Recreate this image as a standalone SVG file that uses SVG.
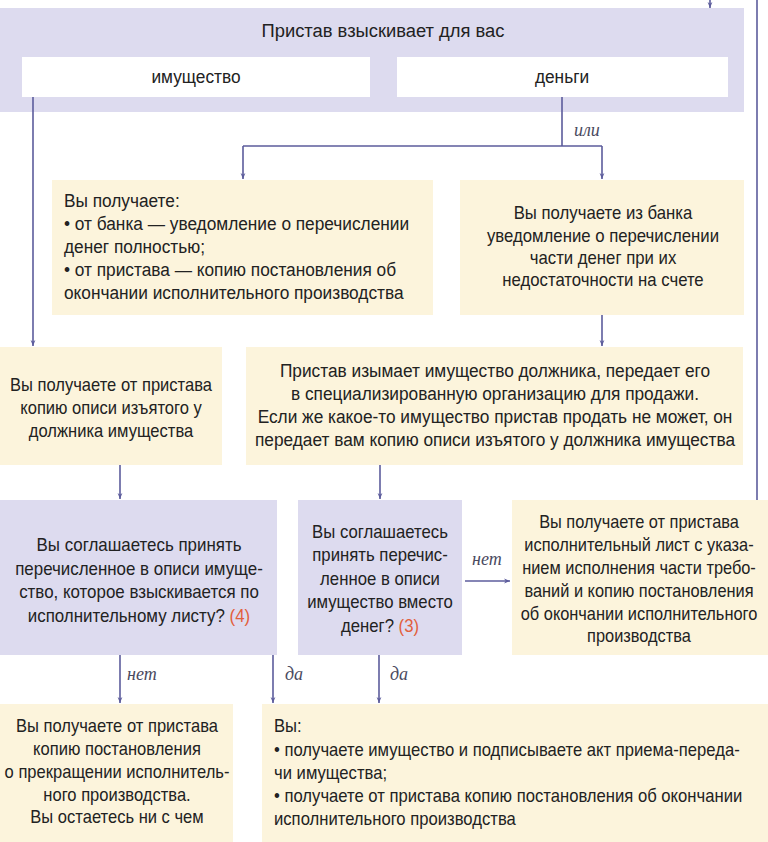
<svg xmlns="http://www.w3.org/2000/svg" width="768" height="842" viewBox="0 0 768 842">
<style>
.lav{fill:#dddbef}
.yel{fill:#fcf4dc}
.wht{fill:#ffffff}
text{font-family:"Liberation Sans",Arial,sans-serif;font-size:18px;fill:#222222}
.c text,text.c{text-anchor:middle}
.lbl{font-family:"Liberation Serif","DejaVu Serif",serif;font-style:italic;font-size:18px;fill:#4a4a60}
.red{fill:#e2603c}
.ln{stroke:#5c5c9c;stroke-width:1.6;fill:none}
</style>
<defs>
<marker id="ah" viewBox="0 0 10 10" refX="10" refY="5" markerWidth="6" markerHeight="6" markerUnits="userSpaceOnUse" orient="auto">
<path d="M0,1 L10,5 L0,9 L3,5 Z" fill="#5c5c9c"/>
</marker>
</defs>
<rect width="768" height="842" fill="#ffffff"/>

<g id="top">
<rect class="lav" x="0" y="8" width="744" height="104"/>
<g class="c" transform="translate(383,0) scale(1.02,1)"><text x="0" y="37">Пристав взыскивает для вас</text></g>
</g>
<g id="imushchestvo">
<rect class="wht" x="22" y="57" width="348" height="40"/>
<g class="c" transform="translate(196,0) scale(0.96,1)"><text x="0" y="83">имущество</text></g>
</g>
<g id="dengi">
<rect class="wht" x="397" y="57" width="331" height="40"/>
<g class="c" transform="translate(562,0) scale(0.96,1)"><text x="0" y="83">деньги</text></g>
</g>

<g id="boxA">
<rect class="yel" x="52" y="180" width="381" height="135"/>
<g transform="translate(64,0) scale(0.96,1)">
<text x="0" y="207">Вы получаете:</text>
<text x="0" y="230">• от банка — уведомление о перечислении</text>
<text x="0" y="253">денег полностью;</text>
<text x="0" y="276">• от пристава — копию постановления об</text>
<text x="0" y="299">окончании исполнительного производства</text>
</g>
</g>
<g id="boxB">
<rect class="yel" x="460" y="180" width="284" height="135"/>
<g class="c" transform="translate(603,0) scale(0.93,1)">
<text x="0" y="219">Вы получаете из банка</text>
<text x="0" y="242">уведомление о перечислении</text>
<text x="0" y="264">части денег при их</text>
<text x="0" y="286">недостаточности на счете</text>
</g>
</g>
<g id="boxC">
<rect class="yel" x="0" y="347" width="222" height="118"/>
<g class="c" transform="translate(111,0) scale(0.92,1)">
<text x="0" y="391">Вы получаете от пристава</text>
<text x="0" y="414">копию описи изъятого у</text>
<text x="0" y="437">должника имущества</text>
</g>
</g>
<g id="boxD">
<rect class="yel" x="246" y="347" width="497" height="118"/>
<g class="c" transform="translate(495,0) scale(0.96,1)">
<text x="0" y="377">Пристав изымает имущество должника, передает его</text>
<text x="0" y="400">в специализированную организацию для продажи.</text>
<text x="0" y="423">Если же какое-то имущество пристав продать не может, он</text>
<text x="0" y="446">передает вам копию описи изъятого у должника имущества</text>
</g>
</g>
<g id="boxE">
<rect class="lav" x="0" y="500" width="277" height="155"/>
<g class="c" transform="translate(139,0) scale(0.94,1)">
<text x="0" y="551">Вы соглашаетесь принять</text>
<text x="0" y="575">перечисленное в описи имуще-</text>
<text x="0" y="598">ство, которое взыскивается по</text>
<text x="0" y="622">исполнительному листу? <tspan class="red">(4)</tspan></text>
</g>
</g>
<g id="boxF">
<rect class="lav" x="298" y="500" width="164" height="155"/>
<g class="c" transform="translate(380,0) scale(0.93,1)">
<text x="0" y="538">Вы соглашаетесь</text>
<text x="0" y="561">принять перечис-</text>
<text x="0" y="585">ленное в описи</text>
<text x="0" y="608">имущество вместо</text>
<text x="0" y="632">денег? <tspan class="red">(3)</tspan></text>
</g>
</g>
<g id="boxG">
<rect class="yel" x="512" y="500" width="256" height="155"/>
<g class="c" transform="translate(639,0) scale(0.91,1)">
<text x="0" y="528">Вы получаете от пристава</text>
<text x="0" y="551">исполнительный лист с указа-</text>
<text x="0" y="574">нием исполнения части требо-</text>
<text x="0" y="597">ваний и копию постановления</text>
<text x="0" y="620">об окончании исполнительного</text>
<text x="0" y="642">производства</text>
</g>
</g>
<g id="boxH">
<rect class="yel" x="0" y="704" width="233" height="138"/>
<g class="c" transform="translate(117,0) scale(0.92,1)">
<text x="0" y="732">Вы получаете от пристава</text>
<text x="0" y="755">копию постановления</text>
<text x="0" y="778">о прекращении исполнитель-</text>
<text x="0" y="801">ного производства.</text>
<text x="0" y="823">Вы остаетесь ни с чем</text>
</g>
</g>
<g id="boxI">
<rect class="yel" x="262" y="704" width="506" height="138"/>
<g transform="translate(274,0) scale(0.925,1)">
<text x="0" y="732">Вы:</text>
<text x="0" y="756">• получаете имущество и подписываете акт приема-переда-</text>
<text x="0" y="779">чи имущества;</text>
<text x="0" y="802">• получаете от пристава копию постановления об окончании</text>
<text x="0" y="825">исполнительного производства</text>
</g>
</g>

<g id="connectors">
<line class="ln" x1="710" y1="-4" x2="710" y2="8" marker-end="url(#ah)"/>
<line class="ln" x1="757" y1="0" x2="757" y2="500"/>
<line class="ln" x1="33" y1="97" x2="33" y2="346" marker-end="url(#ah)"/>
<path class="ln" d="M562,97 V146 M243,146 H602"/>
<line class="ln" x1="243" y1="146" x2="243" y2="179" marker-end="url(#ah)"/>
<line class="ln" x1="602" y1="146" x2="602" y2="179" marker-end="url(#ah)"/>
<line class="ln" x1="602" y1="315" x2="602" y2="346" marker-end="url(#ah)"/>
<line class="ln" x1="120" y1="465" x2="120" y2="499" marker-end="url(#ah)"/>
<line class="ln" x1="380" y1="465" x2="380" y2="499" marker-end="url(#ah)"/>
<line class="ln" x1="465" y1="581" x2="510" y2="581" marker-end="url(#ah)"/>
<line class="ln" x1="120" y1="655" x2="120" y2="703" marker-end="url(#ah)"/>
<line class="ln" x1="273" y1="655" x2="273" y2="703" marker-end="url(#ah)"/>
<line class="ln" x1="379" y1="655" x2="379" y2="703" marker-end="url(#ah)"/>
<text class="lbl" x="574" y="136">или</text>
<text class="lbl" x="472" y="565">нет</text>
<text class="lbl" x="127" y="680">нет</text>
<text class="lbl" x="285" y="680">да</text>
<text class="lbl" x="390" y="680">да</text>
</g>
</svg>
